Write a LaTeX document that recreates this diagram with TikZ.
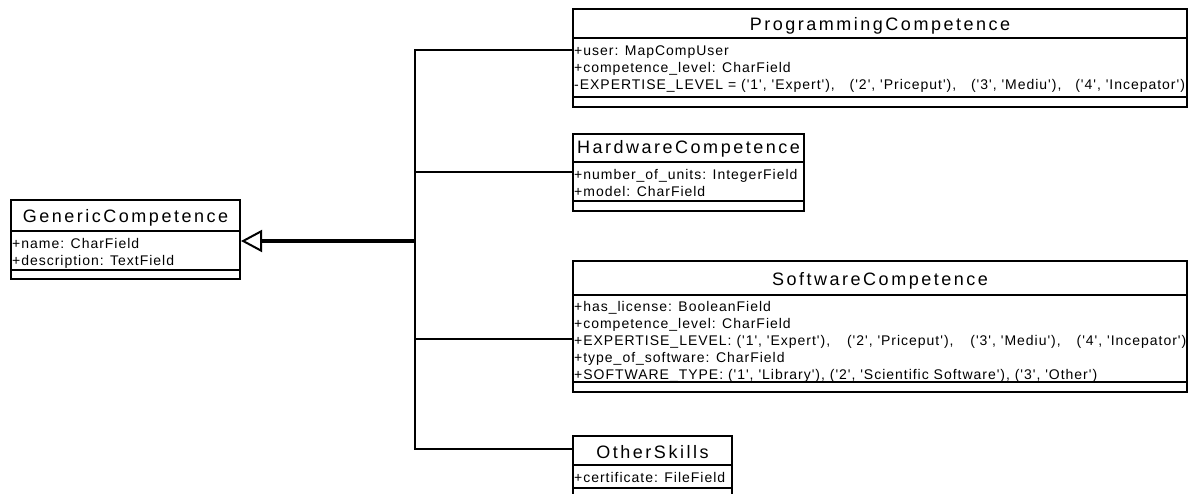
\documentclass[tikz,border=0pt]{standalone}
\usepackage{fontspec}
\setmainfont{Liberation Sans}
\newfontfamily\headfont[LetterSpace=14]{Liberation Sans}
\newfontfamily\attrfont[LetterSpace=7]{Liberation Sans}
\usetikzlibrary{arrows.meta}

\begin{document}
\begin{tikzpicture}[x=1pt,y=-1pt,
  classbox/.style={draw,line width=2pt,anchor=north west,inner sep=0pt},
  classname/.style={font={\headfont\fontsize{18}{20}\selectfont},anchor=base,inner sep=0pt},
  attrs/.style={font={\attrfont\fontsize{14}{17}\selectfont},align=left,anchor=north west,inner sep=0pt},
  compart/.style={line width=2pt},
  link/.style={line width=2pt}]
\useasboundingbox (0,0) rectangle (1189,494);

% Generic class
\node[classbox,minimum width=229pt,minimum height=79pt] (generic) at (10,199) {};
\node[classname] (generictitle) at ([yshift=-24pt]generic.north) {GenericCompetence};
\draw[compart] ([yshift=-32pt]generic.north west) -- ([yshift=-32pt]generic.north east);
\draw[compart] ([yshift=-71pt]generic.north west) -- ([yshift=-71pt]generic.north east);
\node[attrs] (genericattrs) at ([xshift=2pt,yshift=-37pt]generic.north west)
  {\strut+name: CharField\\+description: TextField};

% Programming class
\node[classbox,minimum width=614pt,minimum height=98pt] (prog) at (572,8) {};
\node[classname] (progtitle) at ([yshift=-23pt]prog.north) {ProgrammingCompetence};
\draw[compart] ([yshift=-30pt]prog.north west) -- ([yshift=-30pt]prog.north east);
\draw[compart] ([yshift=-89pt]prog.north west) -- ([yshift=-89pt]prog.north east);
\node[attrs] (progattrs) at ([xshift=2pt,yshift=-35pt]prog.north west)
  {\strut+user: MapCompUser\\+competence\_level: CharField\\
   -EXPERTISE\_LEVEL = ('1', 'Expert'),\hspace{10pt} ('2', 'Priceput'),\hspace{10pt} ('3', 'Mediu'),\hspace{9pt} ('4', 'Incepator')};

% Hardware class
\node[classbox,minimum width=231pt,minimum height=77pt] (hw) at (572,133) {};
\node[classname] (hwtitle) at ([yshift=-21pt]hw.north) {HardwareCompetence};
\draw[compart] ([yshift=-29pt]hw.north west) -- ([yshift=-29pt]hw.north east);
\draw[compart] ([yshift=-68pt]hw.north west) -- ([yshift=-68pt]hw.north east);
\node[attrs] (hwattrs) at ([xshift=2pt,yshift=-34pt]hw.north west)
  {\strut+number\_of\_units: IntegerField\\+model: CharField};

% Software class
\node[classbox,minimum width=614pt,minimum height=131pt] (sw) at (572,260) {};
\node[classname] (swtitle) at ([yshift=-26pt]sw.north) {SoftwareCompetence};
\draw[compart] ([yshift=-35pt]sw.north west) -- ([yshift=-35pt]sw.north east);
\draw[compart] ([yshift=-122pt]sw.north west) -- ([yshift=-122pt]sw.north east);
\node[attrs] (swattrs) at ([xshift=2pt,yshift=-39pt]sw.north west)
  {\strut+has\_license: BooleanField\\+competence\_level: CharField\\
   +EXPERTISE\_LEVEL: ('1', 'Expert'),\hspace{12pt} ('2', 'Priceput'),\hspace{12pt} ('3', 'Mediu'),\hspace{11pt} ('4', 'Incepator')\\
   +type\_of\_software: CharField\\
   +SOFTWARE\_TYPE: ('1', 'Library'), ('2', 'Scientific Software'), ('3', 'Other')};

% Other skills class
\node[classbox,minimum width=159pt,minimum height=64pt] (other) at (572,435) {};
\node[classname] (othertitle) at ([yshift=-23pt]other.north) {OtherSkills};
\draw[compart] ([yshift=-30pt]other.north west) -- ([yshift=-30pt]other.north east);
\draw[compart] ([yshift=-53pt]other.north west) -- ([yshift=-53pt]other.north east);
\node[attrs] (otherattrs) at ([xshift=2pt,yshift=-35pt]other.north west)
  {\strut+certificate: FileField};

% Inheritance
\coordinate (joint) at (415,241);
\draw[link] (joint) |- ([yshift=-42pt]prog.north west);
\draw[link] (joint) |- ([yshift=-39pt]hw.north west);
\draw[link] (joint) |- ([yshift=-79pt]sw.north west);
\draw[link] (joint) |- ([yshift=-14pt]other.north west);
\draw[line width=4pt,-{Triangle[open,length=21pt,width=22pt,line width=2pt]}] (joint) -- (generic.east |- joint);
\end{tikzpicture}
\end{document}
